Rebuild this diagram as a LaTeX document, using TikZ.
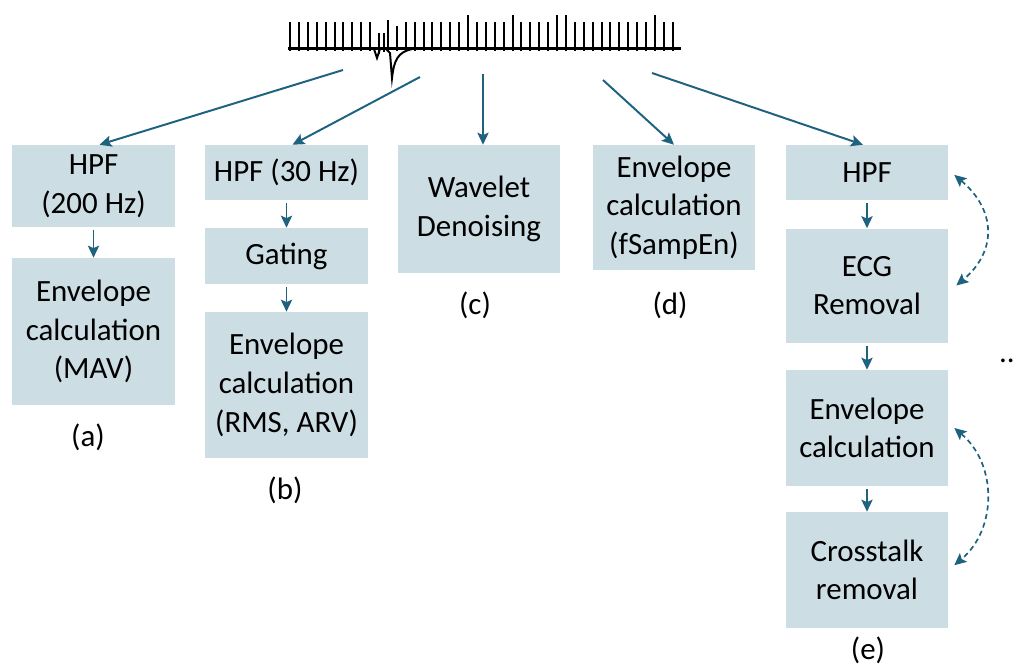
\documentclass[tikz,border=0pt]{standalone}
\usepackage{fontspec}
\setmainfont{Carlito}
\usetikzlibrary{arrows.meta}

\definecolor{boxfill}{RGB}{204,221,228}
\definecolor{flowblue}{RGB}{31,98,128}

\tikzset{
    stage/.style={fill=boxfill, minimum width=40.5mm, minimum height=#1,
        align=center, inner sep=0pt, font=\fontsize{22}{27.5}\selectfont},
    tag/.style={font=\fontsize{22}{27.5}\selectfont},
    flow/.style={draw=flowblue, line width=1.4pt,
        -{Stealth[length=3mm,width=2.8mm,inset=0.6mm]}},
    loopback/.style={draw=flowblue, line width=1.2pt, dash pattern=on 1.3mm off 0.9mm,
        {Stealth[length=3mm,width=2.8mm,inset=0.6mm]}-{Stealth[length=3mm,width=2.8mm,inset=0.6mm]}},
    trace/.style={line width=0.5mm, black}
}

\begin{document}
\begin{tikzpicture}[x=0.25mm, y=-0.25mm]
    \useasboundingbox (0,0) rectangle (1022,668);

    % Draw the signal trace
    % baseline
    \draw[line width=0.7mm] (288,48.5) -- (681,48.5);
    % regular spikes
    \foreach \k in {0,...,9,11,13,14,...,19,21,22,23,24,26,27,28,29,32,33,...,40,42,43}
        \draw[trace] (290+8.9*\k,51) -- (290+8.9*\k,22);
    % taller spikes
    \foreach \k in {20,25,30,31,41}
        \draw[trace] (290+8.9*\k,51) -- (290+8.9*\k,15);
    % short spikes near the artefact
    \draw[trace] (379,54) -- (379,33);
    \draw[trace] (384,52) -- (384,33);
    \draw[trace] (396.8,51) -- (396.8,26);
    \draw[trace] (388,51) -- (388,20);
    % artefact dip
    \draw[trace] (374,49) -- (377,58) -- (380,49);
    \draw[trace] (386,49) -- (390,53) -- (392,78)
        .. controls (394,60) and (398,52) .. (412,49);

    % start points of the branches
    \coordinate (sa) at (343,70);
    \coordinate (sb) at (420,77);
    \coordinate (sc) at (483,74);
    \coordinate (sd) at (603,80);
    \coordinate (se) at (652,73);

    % Branch (a)
    \node[stage=20.5mm] (a1) at (93.5,186) {HPF\\(200 Hz)};
    \node[stage=36.75mm] (a2) at (93.5,331.5) {Envelope\\calculation\\(MAV)};
    \node[tag] (la) at (88,437) {(a)};

    % Branch (b)
    \node[stage=13.75mm] (b1) at (286.5,172.5) {HPF (30 Hz)};
    \node[stage=14mm] (b2) at (286.5,256) {Gating};
    \node[stage=36.5mm] (b3) at (286.5,385) {Envelope\\calculation\\(RMS, ARV)};
    \node[tag] (lb) at (285,490) {(b)};

    % Branch (c)
    \node[stage=32mm] (c1) at (479,209) {Wavelet\\Denoising};
    \node[tag] (lc) at (475,305) {(c)};

    % Branch (d)
    \node[stage=31.25mm] (d1) at (674,207.5) {Envelope\\calculation\\(fSampEn)};
    \node[tag] (ld) at (670,305) {(d)};

    % Branch (e)
    \node[stage=13.75mm] (e1) at (867,172.5) {HPF};
    \node[stage=28.5mm] (e2) at (867,285.5) {ECG\\Removal};
    \node[stage=29mm] (e3) at (867,428) {Envelope\\calculation};
    \node[stage=29mm] (e4) at (867,570) {Crosstalk\\removal};
    \node[tag] (le) at (868,650) {(e)};

    \node[tag, anchor=base] (more) at (1007,362) {..};

    % arrows from the signal
    \draw[flow] (sa) -- ([xshift=1.5mm]a1.north);
    \draw[flow] (sb) -- ([xshift=1.5mm]b1.north);
    \draw[flow] (sc) -- ([xshift=1mm]c1.north);
    \draw[flow] (sd) -- (d1.north);
    \draw[flow] (se) -- ([xshift=-1mm]e1.north);

    % arrows inside each branch
    \draw[flow, shorten <=0.8mm] (a1) -- (a2);
    \draw[flow, shorten <=0.8mm] (b1) -- (b2);
    \draw[flow, shorten <=0.8mm] (b2) -- (b3);
    \draw[flow, shorten <=0.8mm] (e1) -- (e2);
    \draw[flow, shorten <=0.8mm] (e2) -- (e3);
    \draw[flow, shorten <=0.8mm] (e3) -- (e4);

    % swappable steps
    \draw[loopback] ([xshift=1.5mm,yshift=-0.6mm]e1.east) to[out=-40, in=40, looseness=1.25] ([xshift=2mm]e2.east);
    \draw[loopback] ([xshift=1.5mm]e3.east) to[out=-40, in=40, looseness=1.05] ([xshift=1.5mm,yshift=1.2mm]e4.east);
\end{tikzpicture}
\end{document}
